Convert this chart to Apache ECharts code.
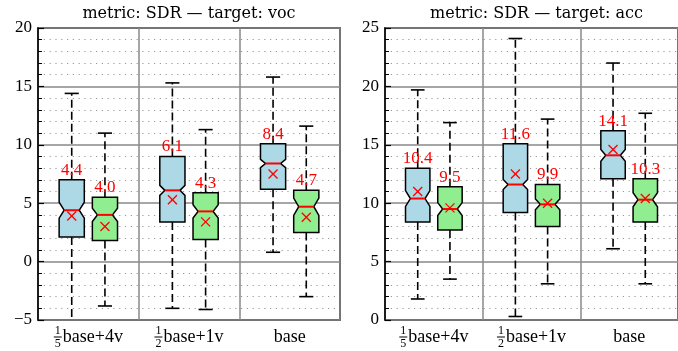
<!DOCTYPE html>
<html><head><meta charset="utf-8">
<script src="https://cdn.jsdelivr.net/npm/echarts@6/dist/echarts.min.js"></script>
<style>html,body{margin:0;padding:0;background:#fff}#c{width:678px;height:351px}</style>
</head><body><div id="c"></div>
<script>
// ---------- data ----------
const categories = ['base+4v', 'base+1v', 'base'];
const fracNum = ['1', '1', ''];
const fracDen = ['5', '2', ''];
const panelTitles = ['metric: SDR \u2014 target: voc', 'metric: SDR \u2014 target: acc'];

// voc panel: first (blue) boxes
const vocBlueLow   = [-6.5, -4.0, 0.8];
const vocBlueQ1    = [2.1, 3.4, 6.2];
const vocBlueMed   = [4.4, 6.1, 8.4];
const vocBlueQ3    = [7.0, 9.0, 10.1];
const vocBlueHigh  = [14.4, 15.3, 15.8];
const vocBlueMean  = [3.9, 5.3, 7.5];
const vocBlueNotch = [0.68, 0.43, 0.36];
// voc panel: second (green) boxes
const vocGreenLow   = [-3.8, -4.1, -3.0];
const vocGreenQ1    = [1.8, 1.9, 2.5];
const vocGreenMed   = [4.0, 4.3, 4.7];
const vocGreenQ3    = [5.5, 5.9, 6.1];
const vocGreenHigh  = [11.0, 11.3, 11.6];
const vocGreenMean  = [3.0, 3.4, 3.8];
const vocGreenNotch = [0.57, 0.57, 0.74];

// acc panel: first (blue) boxes
const accBlueLow   = [1.8, 0.3, 6.1];
const accBlueQ1    = [8.4, 9.2, 12.1];
const accBlueMed   = [10.4, 11.6, 14.1];
const accBlueQ3    = [13.0, 15.1, 16.2];
const accBlueHigh  = [19.7, 24.1, 22.0];
const accBlueMean  = [11.0, 12.5, 14.6];
const accBlueNotch = [0.68, 0.43, 0.5];
// acc panel: second (green) boxes
const accGreenLow   = [3.5, 3.1, 3.1];
const accGreenQ1    = [7.7, 8.0, 8.4];
const accGreenMed   = [9.5, 9.9, 10.3];
const accGreenQ3    = [11.4, 11.6, 12.1];
const accGreenHigh  = [16.9, 17.2, 17.7];
const accGreenMean  = [9.6, 10.0, 10.4];
const accGreenNotch = [0.55, 0.47, 0.6];

const vocTicks = { min: -5, max: 20, interval: 5 };
const accTicks = { min: 0, max: 25, interval: 5 };

// ---------- helpers ----------
function rows(low, q1, med, q3, high, mean, notch) {
  return categories.map((c, i) => [i, low[i], q1[i], med[i], q3[i], high[i], mean[i], notch[i]]);
}
const SERIF = '"Liberation Serif", "Times New Roman", serif';
const TITLE_FONT = '"DejaVu Serif", serif';

function renderBox(side, color) {
  return function (params, api) {
    const cat = api.value(0);
    const band = api.size([1, 0])[0];
    const cx = api.coord([cat, 0])[0] + side * band * 0.165;
    const y = v => api.coord([cat, v])[1];
    const w = band * 0.25, hw = w / 2, inset = w * 0.2;
    const med = api.value(3), n = api.value(7);
    const yLow = y(api.value(1)), yQ1 = y(api.value(2)), yMed = y(med),
          yQ3 = y(api.value(4)), yHigh = y(api.value(5)), yMean = y(api.value(6));
    const yN1 = y(med + n), yN2 = y(med - n);
    const L = cx - hw, R = cx + hw;
    const pts = [[L, yQ1], [L, yN2], [L + inset, yMed], [L, yN1], [L, yQ3],
                 [R, yQ3], [R, yN1], [R - inset, yMed], [R, yN2], [R, yQ1]];
    const capHw = w * 0.28;
    const ms = 4.5;
    const dash = { stroke: '#000', lineWidth: 1.6, lineDash: [8, 4] };
    const solid = { stroke: '#000', lineWidth: 1.6 };
    const red = { stroke: '#ff0000', lineWidth: 1.3 };
    return {
      type: 'group',
      children: [
        { type: 'line', shape: { x1: cx, y1: yQ3, x2: cx, y2: yHigh }, style: dash },
        { type: 'line', shape: { x1: cx, y1: yQ1, x2: cx, y2: yLow }, style: dash },
        { type: 'line', shape: { x1: cx - capHw, y1: yHigh, x2: cx + capHw, y2: yHigh }, style: solid },
        { type: 'line', shape: { x1: cx - capHw, y1: yLow, x2: cx + capHw, y2: yLow }, style: solid },
        { type: 'polygon', shape: { points: pts }, style: { fill: color, stroke: '#000', lineWidth: 1.5 } },
        { type: 'line', shape: { x1: L + inset, y1: yMed, x2: R - inset, y2: yMed }, style: { stroke: '#ff0000', lineWidth: 2 } },
        { type: 'line', shape: { x1: cx - ms, y1: yMean - ms, x2: cx + ms, y2: yMean + ms }, style: red },
        { type: 'line', shape: { x1: cx - ms, y1: yMean + ms, x2: cx + ms, y2: yMean - ms }, style: red },
        { type: 'text', x: cx, y: yQ3 - 1,
          style: { text: med.toFixed(1), fill: '#ff0000', font: '17px ' + SERIF, align: 'center', verticalAlign: 'bottom' } }
      ]
    };
  };
}

const grids = [
  { left: 38, top: 28, width: 302, height: 292 },
  { left: 385, top: 28, width: 303, height: 292 }
];

function xAxisFor(gi) {
  return {
    type: 'category', gridIndex: gi, data: categories,
    axisLine: { show: false }, axisTick: { show: false },
    splitLine: { show: true, lineStyle: { color: '#888', width: 1.5 } },
    axisLabel: {
      interval: 0, margin: 5, color: '#000',
      formatter: (val, idx) => fracNum[idx]
        ? `{n|${fracNum[idx]}}\n{b| }{m|${val}}\n{d|${fracDen[idx]}}`
        : `{s|${val}}`,
      rich: {
        n: { fontFamily: SERIF, fontSize: 12, lineHeight: 11, align: 'left', padding: [0, 0, 0, 1], color: '#000' },
        d: { fontFamily: SERIF, fontSize: 12, lineHeight: 11, align: 'left', padding: [0, 0, 0, 1], color: '#000' },
        b: { width: 8, height: 1, lineHeight: 2, fontSize: 1, backgroundColor: '#000', align: 'left' },
        m: { fontFamily: SERIF, fontSize: 18, lineHeight: 2, align: 'left', verticalAlign: 'middle', padding: [0, 0, 0, 1], color: '#000' },
        s: { fontFamily: SERIF, fontSize: 18, lineHeight: 24, color: '#000' }
      }
    }
  };
}
function yAxisFor(gi, t) {
  return {
    type: 'value', gridIndex: gi, min: t.min, max: t.max, interval: t.interval,
    axisLine: { show: true, lineStyle: { color: '#000', width: 1.5 } },
    axisTick: { show: true, inside: true, length: 6, lineStyle: { color: '#000', width: 1.2 } },
    minorTick: { show: true, splitNumber: 5, length: 4, lineStyle: { color: '#000', width: 1 } },
    splitLine: { show: true, lineStyle: { color: '#888', width: 1.5 } },
    minorSplitLine: { show: true, lineStyle: { color: '#999', width: 1.1, type: [1.2, 4.6] } },
    axisLabel: { margin: 6, color: '#000', fontFamily: SERIF, fontSize: 17,
                 formatter: v => String(v).replace('-', '\u2212') }
  };
}

const chart = echarts.init(document.getElementById('c'), null, { renderer: 'canvas' });
chart.setOption({
  animation: false,
  backgroundColor: '#fff',
  grid: grids.map(g => Object.assign({ show: true, borderColor: '#000', borderWidth: 1.5, backgroundColor: 'transparent' }, g)),
  xAxis: [xAxisFor(0), xAxisFor(1)],
  yAxis: [yAxisFor(0, vocTicks), yAxisFor(1, accTicks)],
  graphic: panelTitles.map((t, i) => ({
    type: 'text', x: grids[i].left + grids[i].width / 2, y: 14,
    style: { text: t, font: '16px ' + TITLE_FONT, fill: '#000', align: 'center', verticalAlign: 'middle' }
  })),
  series: [
    { type: 'custom', xAxisIndex: 0, yAxisIndex: 0, clip: true, renderItem: renderBox(-1, '#add8e6'),
      data: rows(vocBlueLow, vocBlueQ1, vocBlueMed, vocBlueQ3, vocBlueHigh, vocBlueMean, vocBlueNotch) },
    { type: 'custom', xAxisIndex: 0, yAxisIndex: 0, clip: true, renderItem: renderBox(1, '#90ee90'),
      data: rows(vocGreenLow, vocGreenQ1, vocGreenMed, vocGreenQ3, vocGreenHigh, vocGreenMean, vocGreenNotch) },
    { type: 'custom', xAxisIndex: 1, yAxisIndex: 1, clip: true, renderItem: renderBox(-1, '#add8e6'),
      data: rows(accBlueLow, accBlueQ1, accBlueMed, accBlueQ3, accBlueHigh, accBlueMean, accBlueNotch) },
    { type: 'custom', xAxisIndex: 1, yAxisIndex: 1, clip: true, renderItem: renderBox(1, '#90ee90'),
      data: rows(accGreenLow, accGreenQ1, accGreenMed, accGreenQ3, accGreenHigh, accGreenMean, accGreenNotch) }
  ]
});
</script>
</body></html>
